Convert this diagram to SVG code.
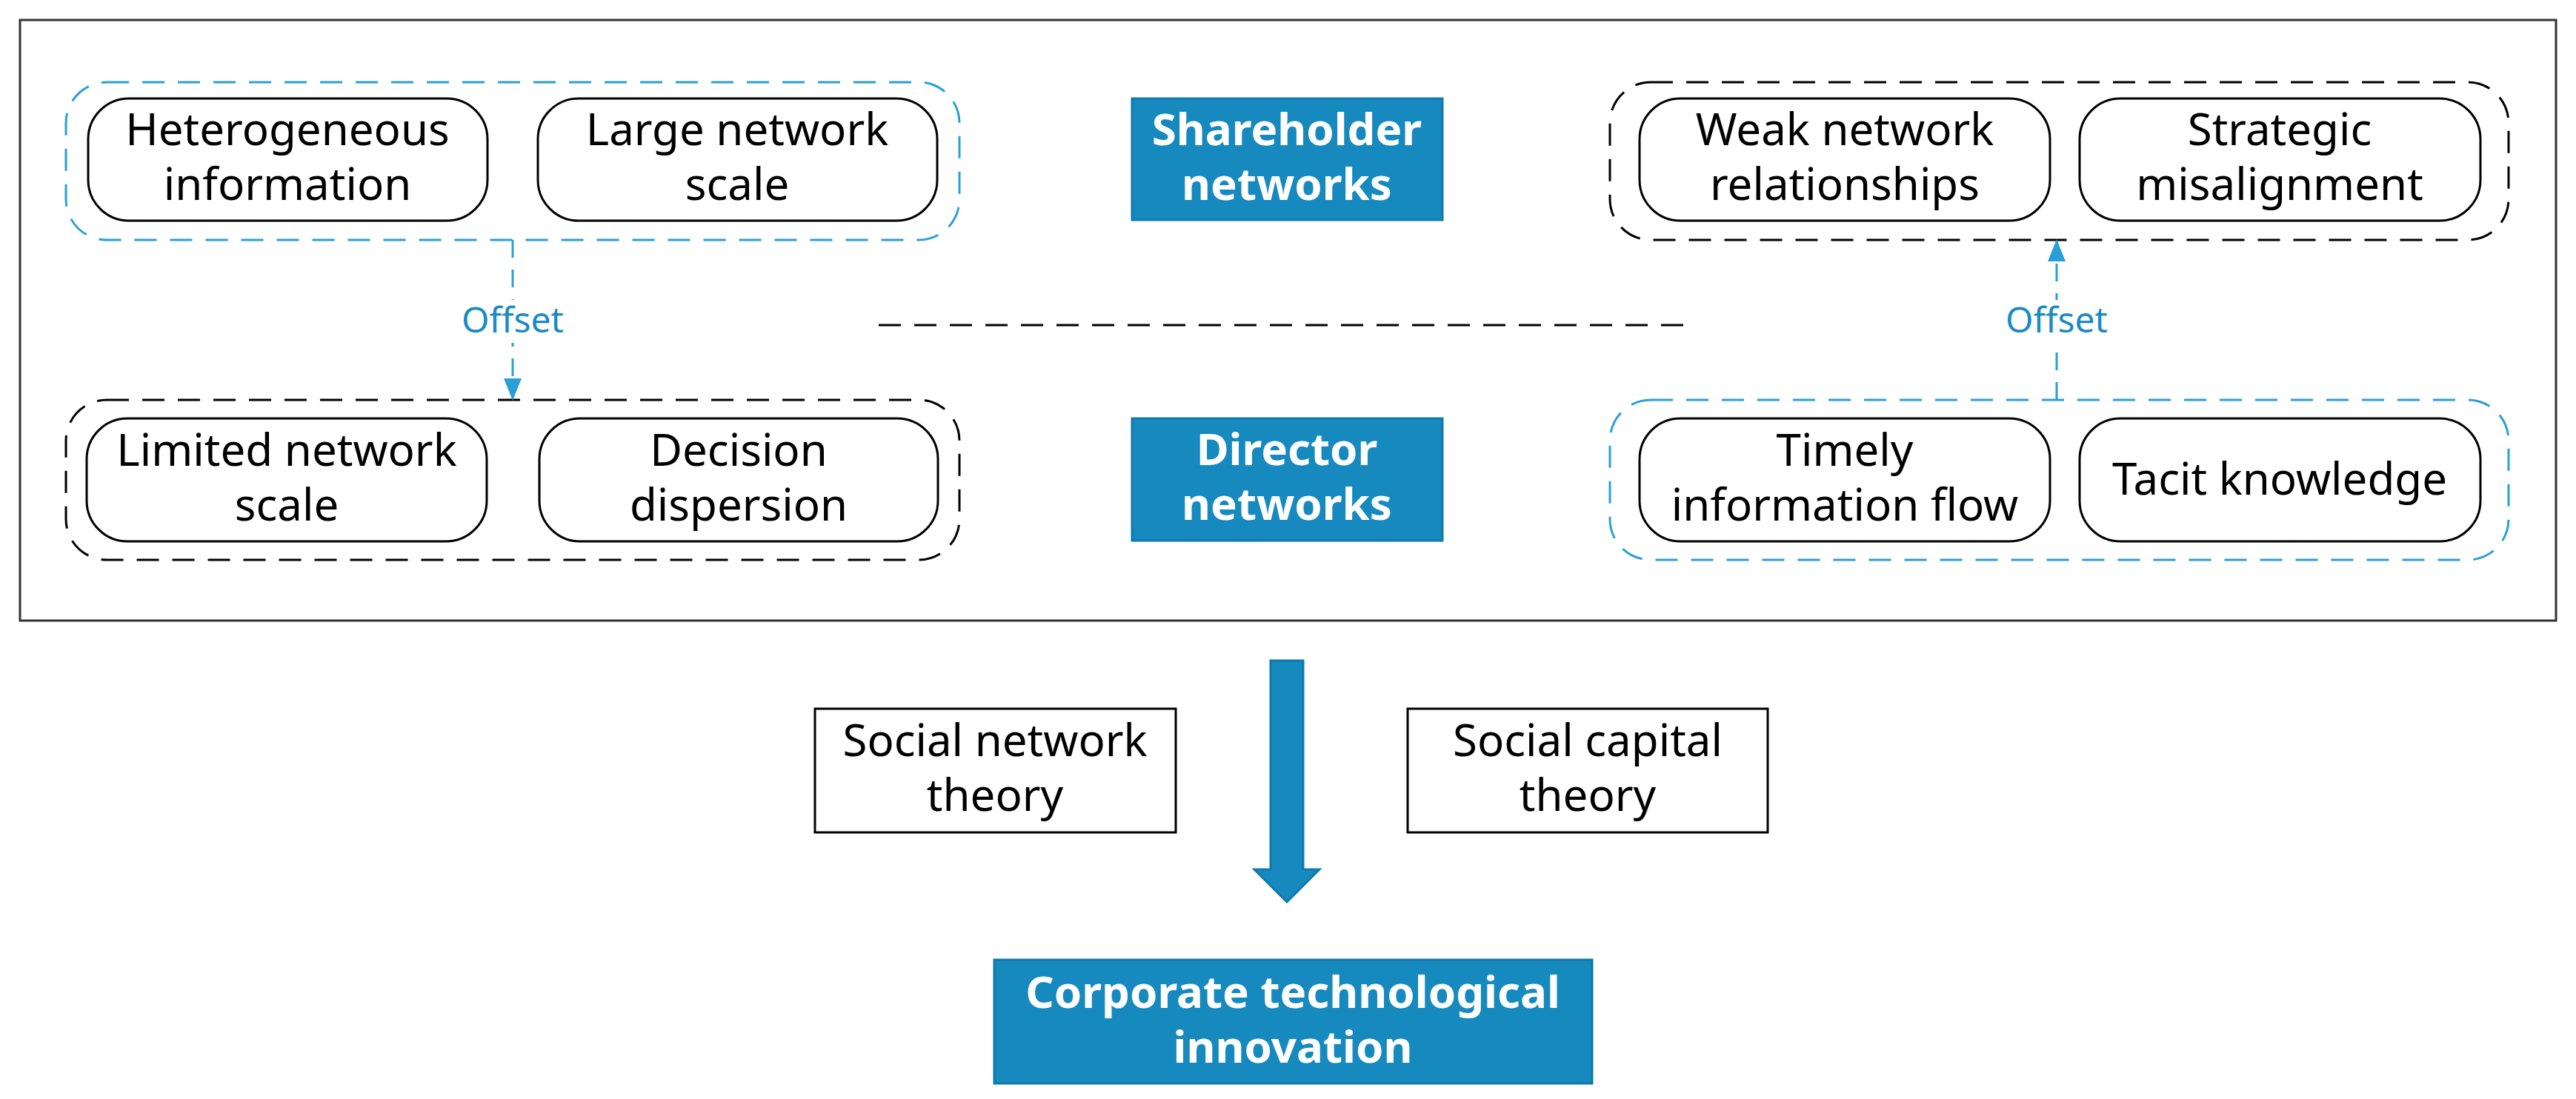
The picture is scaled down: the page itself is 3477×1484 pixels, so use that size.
<svg xmlns="http://www.w3.org/2000/svg" width="3477" height="1484" viewBox="0 0 3477 1484">
<style>
text{font-family:"Noto Sans","Open Sans",sans-serif;text-anchor:middle}
.t{font-size:60px;fill:#000}
.b{font-size:60px;fill:#fff;font-weight:bold}
.o{font-size:48px;fill:#1a8ac4}
.box{fill:#fff;stroke:#000;stroke-width:3}
.gb{fill:none;stroke:#2a9fd6;stroke-width:3;stroke-dasharray:30 18}
.gk{fill:none;stroke:#000;stroke-width:3;stroke-dasharray:30 18}
.fill{fill:#1689be;stroke:#0f7aab;stroke-width:3}
</style>
<defs>
<marker id="ah" markerWidth="10" markerHeight="10" refX="9" refY="5" orient="auto" markerUnits="strokeWidth"><path d="M0,1 L10,5 L0,9 Z" fill="#2a9fd6"/></marker>
</defs>
<rect x="27" y="27" width="3423" height="811" fill="#fff" stroke="#333" stroke-width="3"/>
<g id="groups">
<rect class="gb" x="89" y="111" width="1206" height="213" rx="55"/>
<rect class="gk" x="89" y="540" width="1206" height="216" rx="55"/>
<rect class="gk" x="2173" y="111" width="1213" height="213" rx="55"/>
<rect class="gb" x="2173" y="540" width="1213" height="216" rx="55"/>
</g>
<g id="n1"><rect class="box" x="119" y="133" width="539" height="165" rx="55"/><text class="t" x="388" y="196">Heterogeneous</text><text class="t" x="388" y="270">information</text></g>
<g id="n2"><rect class="box" x="726" y="133" width="539" height="165" rx="55"/><text class="t" x="995" y="196">Large network</text><text class="t" x="995" y="270">scale</text></g>
<g id="n3"><rect class="box" x="117" y="565" width="540" height="166" rx="55"/><text class="t" x="387" y="629">Limited network</text><text class="t" x="387" y="703">scale</text></g>
<g id="n4"><rect class="box" x="728" y="565" width="538" height="166" rx="55"/><text class="t" x="997" y="629">Decision</text><text class="t" x="997" y="703">dispersion</text></g>
<g id="n5"><rect class="box" x="2213" y="133" width="554" height="165" rx="55"/><text class="t" x="2490" y="196">Weak network</text><text class="t" x="2490" y="270">relationships</text></g>
<g id="n6"><rect class="box" x="2807" y="133" width="541" height="165" rx="55"/><text class="t" x="3077" y="196">Strategic</text><text class="t" x="3077" y="270">misalignment</text></g>
<g id="n7"><rect class="box" x="2213" y="565" width="554" height="166" rx="55"/><text class="t" x="2490" y="629">Timely</text><text class="t" x="2490" y="703">information flow</text></g>
<g id="n8"><rect class="box" x="2807" y="565" width="541" height="166" rx="55"/><text class="t" x="3077" y="668">Tacit knowledge</text></g>
<g id="sh"><rect class="fill" x="1528" y="133" width="419" height="164"/><text class="b" x="1737" y="196">Shareholder</text><text class="b" x="1737" y="270">networks</text></g>
<g id="dn"><rect class="fill" x="1528" y="565" width="419" height="165"/><text class="b" x="1737" y="628">Director</text><text class="b" x="1737" y="702">networks</text></g>
<g id="st1"><rect class="box" x="1100" y="957" width="487" height="167"/><text class="t" x="1343" y="1021">Social network</text><text class="t" x="1343" y="1095">theory</text></g>
<g id="st2"><rect class="box" x="1900" y="957" width="486" height="167"/><text class="t" x="2143" y="1021">Social capital</text><text class="t" x="2143" y="1095">theory</text></g>
<g id="ci"><rect class="fill" x="1342" y="1296" width="807" height="167"/><text class="b" x="1745" y="1361">Corporate technological</text><text class="b" x="1745" y="1435">innovation</text></g>
<g id="connectors">
<line x1="692" y1="324" x2="692" y2="538" stroke="#2a9fd6" stroke-width="3" stroke-dasharray="24 16" marker-end="url(#ah)"/>
<line x1="2776" y1="540" x2="2776" y2="326" stroke="#2a9fd6" stroke-width="3" stroke-dasharray="24 16" marker-end="url(#ah)"/>
<line x1="1186" y1="439" x2="2288" y2="439" stroke="#000" stroke-width="3" stroke-dasharray="30 18"/>
<path d="M1715,892 H1759 V1174 H1781 L1737,1218 L1693,1174 H1715 Z" fill="#1689be" stroke="#0f7aab" stroke-width="3"/>
</g>
<rect x="648" y="405" width="88" height="58" fill="#fff"/>
<text class="o" x="692" y="449">Offset</text>
<rect x="2732" y="405" width="88" height="58" fill="#fff"/>
<text class="o" x="2776" y="449">Offset</text>
</svg>
